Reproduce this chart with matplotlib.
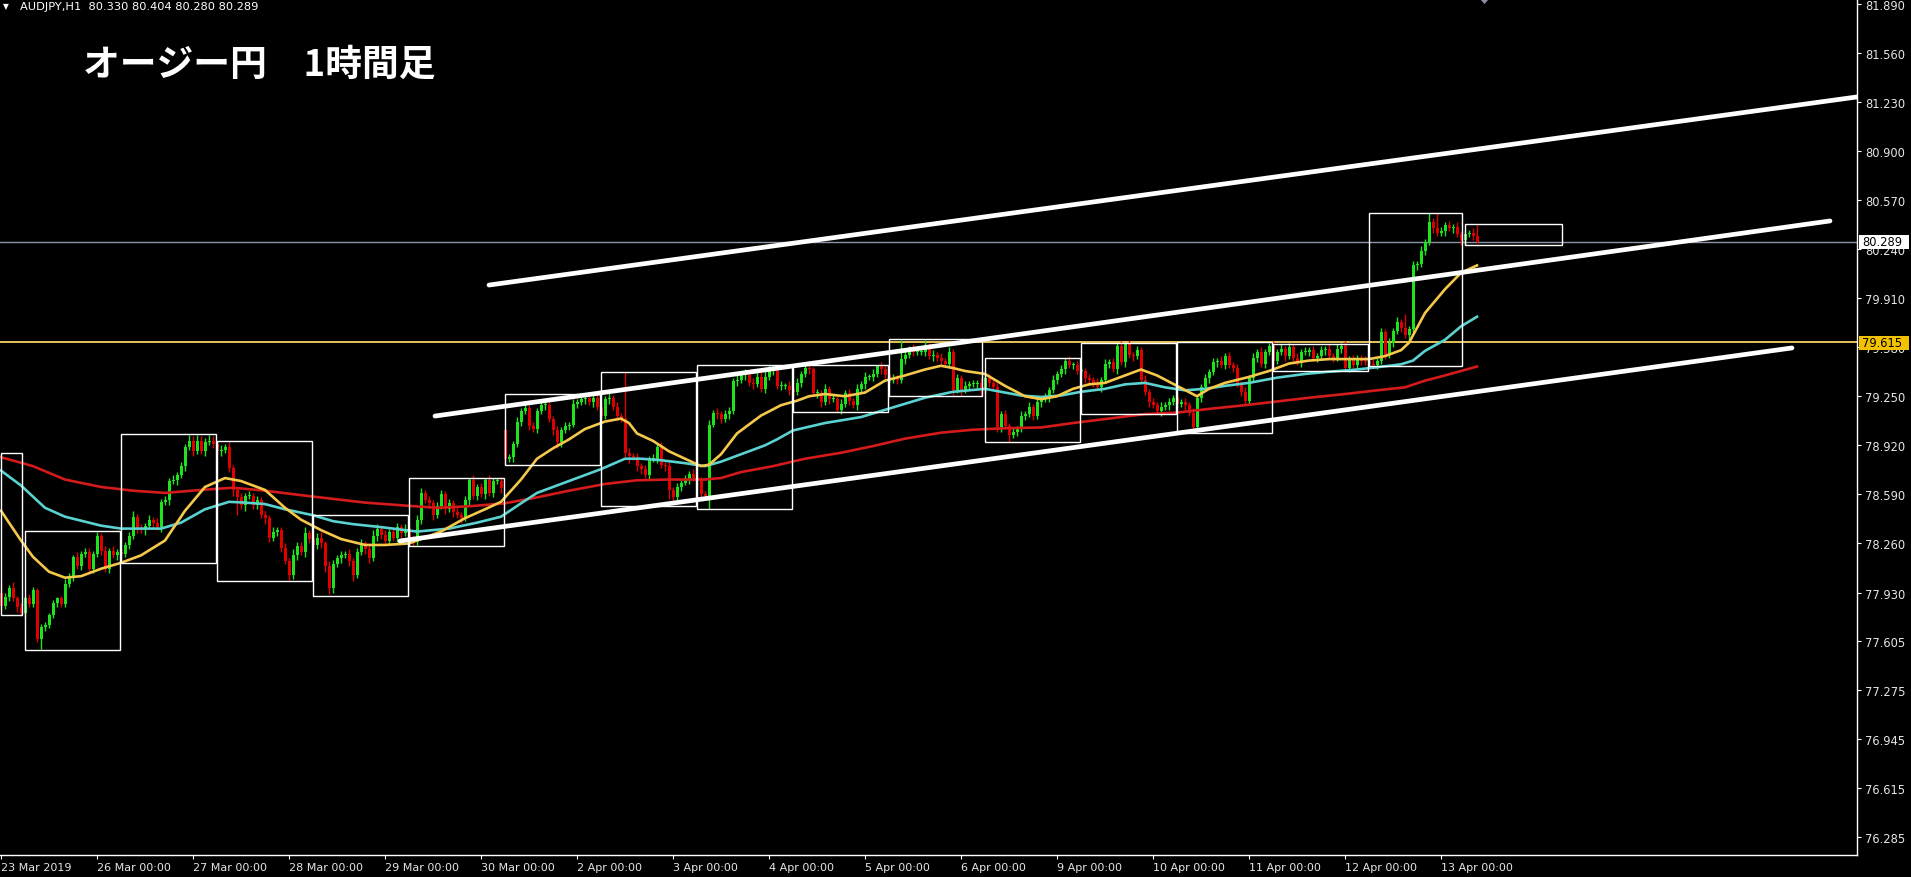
import numpy as np
import matplotlib.pyplot as plt
from matplotlib.patches import Rectangle, Polygon

W, H = 1911, 878

# hourly closes AUDJPY (bar 0 = first visible bar)
closes = [
    77.84, 77.90, 77.96, 77.89, 77.83, 77.79, 77.89, 77.85, 77.95, 77.62,
    77.70, 77.71, 77.78, 77.86, 77.89, 77.85, 77.99, 78.04, 78.17, 78.11,
    78.19, 78.20, 78.09, 78.19, 78.31, 78.21, 78.09, 78.21, 78.18, 78.20,
    78.19, 78.25, 78.31, 78.44, 78.36, 78.35, 78.38, 78.42, 78.40, 78.37,
    78.54, 78.55, 78.68, 78.69, 78.72, 78.78, 78.91, 78.95, 78.88, 78.95,
    78.88, 78.94, 78.95, 78.93, 78.88, 78.89, 78.91, 78.77, 78.62, 78.57,
    78.52, 78.58, 78.58, 78.52, 78.55, 78.45, 78.43, 78.30, 78.34, 78.35,
    78.23, 78.14, 78.05, 78.18, 78.24, 78.20, 78.33, 78.29, 78.25, 78.30,
    78.26, 78.11, 77.96, 78.12, 78.16, 78.18, 78.19, 78.14, 78.05, 78.20,
    78.26, 78.22, 78.16, 78.31, 78.36, 78.32, 78.28, 78.34, 78.30, 78.37,
    78.33, 78.36, 78.29, 78.27, 78.42, 78.60, 78.55, 78.53, 78.45, 78.51,
    78.59, 78.49, 78.53, 78.47, 78.45, 78.43, 78.55, 78.69, 78.58, 78.64,
    78.59, 78.69, 78.60, 78.68, 78.68, 78.63, 78.83, 78.84, 78.93, 79.08,
    79.15, 79.17, 79.05, 79.03, 79.15, 79.19, 79.19, 79.10, 79.02, 78.94,
    79.02, 79.05, 79.06, 79.20, 79.21, 79.23, 79.24, 79.21, 79.24, 79.18,
    79.12, 79.23, 79.24, 79.18, 79.12, 79.10, 78.87, 78.85, 78.84, 78.78,
    78.76, 78.72, 78.83, 78.83, 78.91, 78.79, 78.78, 78.62, 78.57, 78.64,
    78.67, 78.69, 78.73, 78.70, 78.68, 78.59, 78.58, 79.06, 79.14, 79.13,
    79.10, 79.13, 79.15, 79.35, 79.36, 79.39, 79.39, 79.34, 79.33, 79.38,
    79.30, 79.38, 79.42, 79.42, 79.32, 79.32, 79.32, 79.29, 79.28, 79.34,
    79.40, 79.44, 79.43, 79.27, 79.27, 79.21, 79.30, 79.23, 79.23, 79.16,
    79.20, 79.27, 79.22, 79.19, 79.30, 79.33, 79.38, 79.38, 79.40, 79.46,
    79.43, 79.39, 79.36, 79.37, 79.36, 79.50, 79.53, 79.57, 79.55, 79.55,
    79.55, 79.59, 79.52, 79.53, 79.51, 79.49, 79.47, 79.55, 79.29, 79.37,
    79.29, 79.32, 79.33, 79.33, 79.34, 79.29, 79.37, 79.34, 79.31, 79.04,
    79.13, 79.05, 78.99, 79.01, 79.03, 79.12, 79.13, 79.18, 79.12, 79.21,
    79.23, 79.24, 79.29, 79.36, 79.40, 79.43, 79.49, 79.46, 79.46, 79.42,
    79.42, 79.37, 79.36, 79.34, 79.31, 79.36, 79.47, 79.48, 79.43, 79.59,
    79.48, 79.60, 79.53, 79.52, 79.56, 79.36, 79.28, 79.21, 79.19, 79.15,
    79.18, 79.19, 79.21, 79.24, 79.20, 79.21, 79.19, 79.14, 79.04, 79.24,
    79.31, 79.37, 79.41, 79.48, 79.49, 79.46, 79.52, 79.46, 79.44, 79.33,
    79.28, 79.22, 79.37, 79.51, 79.55, 79.47, 79.55, 79.59, 79.49, 79.55,
    79.57, 79.52, 79.58, 79.51, 79.48, 79.55, 79.55, 79.56, 79.51, 79.52,
    79.56, 79.57, 79.52, 79.51, 79.57, 79.59, 79.44, 79.50, 79.46, 79.51,
    79.49, 79.48, 79.47, 79.46, 79.49, 79.68, 79.53, 79.61, 79.69, 79.75,
    79.71, 79.66, 79.70, 80.13, 80.14, 80.23, 80.29, 80.42, 80.38, 80.35,
    80.36, 80.40, 80.38, 80.39, 80.34, 80.30, 80.34, 80.35, 80.33, 80.289,
]
# wick lengths above / below the body, in 0.01 yen
up_wick = [
    5,3,2,4,2,3,2,3,2,1, 2,2,1,2,1,2,3,2,1,3, 2,3,3,2,3,2,3,2,3,2,
    2,2,3,4,2,3,2,3,2,3, 2,3,2,3,2,3,2,4,3,4, 3,3,4,3,2,3,2,3,2,2,
    3,2,3,2,3,2,3,2,3,2, 2,3,2,4,3,3,4,2,3,3, 4,2,3,3,2,3,2,3,2,3,
    3,2,3,4,3,2,3,2,3,3, 2,3,3,2,3,3,2,3,2,3, 3,2,3,2,3,2,3,1,3,2,
    3,1,3,2,2,3,0,2,2,3, 2,3,2,3,2,3,2,3,2,3, 2,3,2,3,2,2,2,3,2,3,
    3,2,3,2,3,2,31,3,2,3, 2,3,2,3,2,3,2,3,2,3, 2,3,2,3,2,3,2,3,2,3,
    2,3,3,2,3,2,4,3,3,3, 3,4,4,3,2,3,2,3,2,3, 2,2,3,2,3,2,3,2,3,2,
    3,2,3,2,3,2,3,2,3,0, 2,3,2,3,2,13,3,2,3,2, 3,4,2,3,2,3,2,3,2,3,
    2,3,2,3,2,3,2,3,2,3, 2,3,2,3,2,3,2,3,2,3, 2,3,2,3,2,3,2,3,2,3,
    3,2,3,2,3,2,3,2,3,2, 3,1,3,2,3,2,3,2,3,2, 3,2,3,2,3,2,3,2,3,2,
    2,3,2,3,2,3,2,3,2,3, 2,3,2,3,2,3,2,2,3,2, 3,2,3,2,3,2,3,2,3,2,
    3,2,3,2,3,2,3,2,3,2, 2,3,2,3,2,3,2,3,2,3, 2,9,2,3,2,3,2,6,3,10,
    3,2,3,2,3,2,3,2,3,7,
]
dn_wick = [
    3,2,3,2,3,2,3,2,2,2, 7,3,2,2,3,2,2,2,3,2, 3,2,2,3,2,3,2,3,2,3,
    6,2,3,2,3,2,3,2,4,2, 3,2,3,2,4,2,3,2,3,2, 2,3,2,3,2,3,2,3,4,12,
    3,4,2,3,3,2,4,3,2,3, 3,2,4,3,3,2,3,3,2,3, 3,4,4,3,2,3,2,3,4,2,
    2,3,3,2,3,3,2,3,2,3, 3,2,3,3,2,3,2,3,3,2, 2,3,2,3,2,3,2,3,2,3,
    2,3,2,3,2,3,4,2,3,2, 3,2,3,2,3,2,3,2,3,4, 3,2,3,2,3,2,3,2,3,2,
    3,2,3,2,3,2,3,5,2,3, 3,2,3,2,3,2,3,6,3,2, 3,2,3,2,3,2,3,9,2,3,
    3,2,3,2,3,2,3,2,3,2, 2,3,2,3,2,3,2,3,3,2, 3,2,3,2,3,3,2,3,2,2,
    3,2,3,2,3,2,3,2,3,2, 3,2,3,2,3,2,3,2,3,2, 2,3,2,3,2,3,2,3,3,2,
    3,2,3,2,3,3,2,3,2,3, 3,2,5,2,3,2,3,2,3,2, 3,2,3,2,3,2,3,2,3,2,
    2,3,2,3,2,3,2,3,2,3, 2,3,2,3,2,3,2,3,2,2, 3,2,3,2,3,2,3,2,4,3,
    3,2,3,2,3,2,3,2,3,2, 3,2,3,2,3,2,3,2,3,2, 2,3,2,3,2,3,2,3,2,3,
    2,3,2,3,2,3,2,3,2,3, 3,2,3,2,3,2,3,2,3,2, 3,2,3,2,3,2,3,2,3,2,
    2,3,2,3,2,3,3,2,3,1,
]
first_open = 77.93
gap_opens = {126: 79.02}   # weekend gap

# moving averages, read at sample bars
yel_bars = [0, 5, 8, 12, 16, 20, 25, 30, 35, 41, 46, 51, 56, 60, 66, 71, 75, 80, 85, 91,
            96, 102, 110, 116, 121, 125, 130, 134, 138, 142, 146, 151, 155, 157, 159, 163,
            167, 171, 175, 177, 180, 184, 187, 190, 195, 199, 202, 206, 211, 216, 221, 226,
            231, 235, 238, 241, 246, 251, 256, 260, 264, 268, 272, 276, 280, 285, 289, 294,
            299, 302, 306, 312, 317, 322, 327, 332, 337, 342, 346, 350, 352, 356, 361, 365, 369]
yel_vals = [78.48, 78.28, 78.17, 78.07, 78.03, 78.04, 78.09, 78.13, 78.18, 78.28, 78.48, 78.64,
            78.70, 78.68, 78.62, 78.50, 78.42, 78.35, 78.29, 78.25, 78.25, 78.26, 78.34, 78.43,
            78.49, 78.54, 78.69, 78.83, 78.90, 78.96, 79.03, 79.08, 79.10, 79.07, 79.00, 78.95,
            78.88, 78.83, 78.78, 78.79, 78.86, 79.00, 79.06, 79.12, 79.19, 79.22, 79.25, 79.265,
            79.25, 79.275, 79.355, 79.39, 79.43, 79.455, 79.44, 79.42, 79.40, 79.32, 79.25, 79.23,
            79.25, 79.30, 79.33, 79.34, 79.38, 79.43, 79.39, 79.32, 79.25, 79.30, 79.34, 79.38,
            79.42, 79.47, 79.49, 79.50, 79.50, 79.50, 79.52, 79.56, 79.61, 79.81, 79.97, 80.08, 80.13]
cyan_bars = [0, 5, 11, 16, 25, 30, 40, 45, 51, 57, 61, 66, 71, 78, 83, 88, 95, 104, 112, 119,
             125, 130, 134, 142, 150, 156, 160, 165, 171, 176, 180, 184, 188, 191, 194, 198, 206,
             215, 223, 231, 238, 246, 255, 260, 265, 270, 276, 281, 286, 291, 296, 301, 306, 312,
             319, 326, 332, 339, 344, 350, 353, 356, 361, 365, 369]
cyan_vals = [78.75, 78.65, 78.50, 78.44, 78.38, 78.36, 78.36, 78.40, 78.49, 78.54, 78.535, 78.525,
             78.49, 78.45, 78.41, 78.39, 78.37, 78.34, 78.36, 78.40, 78.44, 78.53, 78.60, 78.68,
             78.76, 78.83, 78.83, 78.82, 78.80, 78.78, 78.81, 78.85, 78.89, 78.92, 78.96, 79.02,
             79.07, 79.11, 79.175, 79.24, 79.28, 79.30, 79.255, 79.245, 79.255, 79.28, 79.30, 79.33,
             79.34, 79.31, 79.29, 79.30, 79.32, 79.34, 79.375, 79.40, 79.415, 79.43, 79.445, 79.465,
             79.49, 79.555, 79.63, 79.72, 79.785]
red_bars = [0, 8, 16, 25, 33, 41, 50, 58, 66, 75, 83, 91, 101, 109, 117, 126, 134, 142, 151, 159,
            167, 176, 180, 185, 193, 201, 210, 218, 226, 235, 243, 251, 260, 268, 277, 286, 294,
            302, 311, 319, 327, 336, 344, 351, 356, 361, 365, 369]
red_vals = [78.84, 78.78, 78.69, 78.64, 78.615, 78.60, 78.62, 78.635, 78.615, 78.585, 78.56, 78.535,
            78.515, 78.50, 78.51, 78.53, 78.57, 78.615, 78.66, 78.685, 78.69, 78.69, 78.70, 78.74,
            78.78, 78.83, 78.87, 78.915, 78.965, 79.005, 79.025, 79.035, 79.04, 79.07, 79.10, 79.13,
            79.14, 79.165, 79.19, 79.215, 79.24, 79.265, 79.29, 79.31, 79.355, 79.39, 79.42, 79.45]

# daily session boxes (bar range and price range)
box_left = [0, 6, 30, 54, 78, 102, 126, 150, 174, 198, 222, 246, 270, 294, 318, 342, 366]
box_right = [5.25, 29.75, 53.75, 77.75, 101.75, 125.75, 149.75, 173.75, 197.75, 221.75,
             245.25, 269.75, 293.75, 317.75, 341.75, 365.25, 390.25]
box_top = [78.869, 78.344, 78.996, 78.949, 78.452, 78.700, 79.265, 79.413, 79.460, 79.460,
           79.635, 79.507, 79.608, 79.615, 79.602, 80.483, 80.409]
box_bot = [77.779, 77.544, 78.129, 78.008, 77.907, 78.243, 78.788, 78.512, 78.492, 79.144,
           79.252, 78.942, 79.131, 79.003, 79.420, 79.454, 80.267]

# channel lines drawn on the chart
trend_x0 = [122.0, 108.5, 99.75]
trend_y0 = [79.998, 79.117, 78.277]
trend_x1 = [464.0, 457.25, 447.75]
trend_y1 = [81.263, 80.429, 79.575]

res_level = 79.615
last_price = 80.289

yticks = [81.890, 81.560, 81.230, 80.900, 80.570, 80.240, 79.910, 79.580, 79.250, 78.920,
          78.590, 78.260, 77.930, 77.605, 77.275, 76.945, 76.615, 76.285]
xtick_bars = list(range(0, 361, 24))
xtick_labels = ['23 Mar 2019', '26 Mar 00:00', '27 Mar 00:00', '28 Mar 00:00', '29 Mar 00:00',
                '30 Mar 00:00', '2 Apr 00:00', '3 Apr 00:00', '4 Apr 00:00', '5 Apr 00:00',
                '6 Apr 00:00', '9 Apr 00:00', '10 Apr 00:00', '11 Apr 00:00', '12 Apr 00:00',
                '13 Apr 00:00']

C = np.array(closes)
O = np.array([first_open] + closes[:-1])
for k, v in gap_opens.items():
    O[k] = v
Hi = np.maximum(O, C) + np.array(up_wick) / 100
Lo = np.minimum(O, C) - np.array(dn_wick) / 100
idx = np.arange(len(C))

fig = plt.figure(figsize=(W / 100, H / 100), dpi=100, facecolor='black')
ax = fig.add_axes([0, 22 / H, 1857 / W, 856 / H])
ax.set_facecolor('black')
ax.set_xlim(-0.25, 464)
ax.set_ylim(76.165, 81.9216)

bull = C >= O
cols = np.where(bull, '#1ee41e', '#e00000')
ax.axhline(res_level, color='#e6c35c', lw=1.4, zorder=1.5)
ax.axhline(last_price, color='#8c96a8', lw=1, zorder=1.5)
ax.vlines(idx, Lo, Hi, colors=cols, lw=1.0, zorder=2)
body = np.maximum(np.abs(C - O), 0.007)
ax.bar(idx, body, bottom=np.minimum(O, C), width=0.75, color=cols, lw=0, zorder=2.1)

ax.plot(red_bars, red_vals, color='#d41a1a', lw=1.9, zorder=3)
ax.plot(cyan_bars, cyan_vals, color='#5ad2d0', lw=1.9, zorder=3)
ax.plot(yel_bars, yel_vals, color='#f5c84a', lw=1.9, zorder=3)

for l, r, t, b in zip(box_left, box_right, box_top, box_bot):
    ax.add_patch(Rectangle((l, b), r - l, t - b, fill=False, ec='white', lw=1, zorder=4))

for x0, y0, x1, y1 in zip(trend_x0, trend_y0, trend_x1, trend_y1):
    ax.plot([x0, x1], [y0, y1], color='white', lw=3.4, solid_capstyle='round', zorder=5)

for s in ['top', 'left']:
    ax.spines[s].set_visible(False)
for s in ['bottom', 'right']:
    ax.spines[s].set_color('white')
    ax.spines[s].set_linewidth(1)

ax.yaxis.tick_right()
ax.set_yticks(yticks)
ax.set_yticklabels([f'{v:.3f}' for v in yticks])
ax.tick_params(axis='y', colors='white', labelcolor='#e6e6e6', labelsize=8.3,
               length=3, width=0.8, pad=3)
ax.set_xticks(xtick_bars)
ax.set_xticklabels(xtick_labels, ha='left')
ax.tick_params(axis='x', colors='white', labelcolor='#e6e6e6', labelsize=8.0,
               length=3, width=0.8, pad=2)

# price labels on the right scale
fig.add_artist(Rectangle((1859 / W, 1 - 249.5 / H), 50 / W, 14 / H, transform=fig.transFigure,
                         fc='white', ec='none', zorder=10))
fig.text(1862 / W, 1 - 242.5 / H, f'{last_price:.3f}', color='black', fontsize=8.3,
         va='center', ha='left', zorder=11)
fig.add_artist(Rectangle((1859 / W, 1 - 350.5 / H), 50 / W, 14 / H, transform=fig.transFigure,
                         fc='#f2c200', ec='none', zorder=10))
fig.text(1862 / W, 1 - 343.5 / H, f'{res_level:.3f}', color='black', fontsize=8.3,
         va='center', ha='left', zorder=11)

# chart header and title
fig.text(3 / W, 1 - 7 / H, '▼', fontsize=5.5, color='white', va='center')
fig.text(20 / W, 1 - 7.5 / H, 'AUDJPY,H1  80.330 80.404 80.280 80.289', fontsize=8.2,
         color='white', va='center')
fig.text(83 / W, 1 - 65 / H, 'オージー円　1時間足', fontsize=26.5, fontweight='bold',
         color='white', family=['Noto Sans CJK JP', 'DejaVu Sans'], va='center')
fig.add_artist(Polygon([(1480 / W, 1.0), (1489 / W, 1.0), (1484.5 / W, 1 - 5 / H)],
                       closed=True, transform=fig.transFigure, fc='#8890a0', ec='none'))

fig.savefig('out.png', dpi=100, facecolor='black')
